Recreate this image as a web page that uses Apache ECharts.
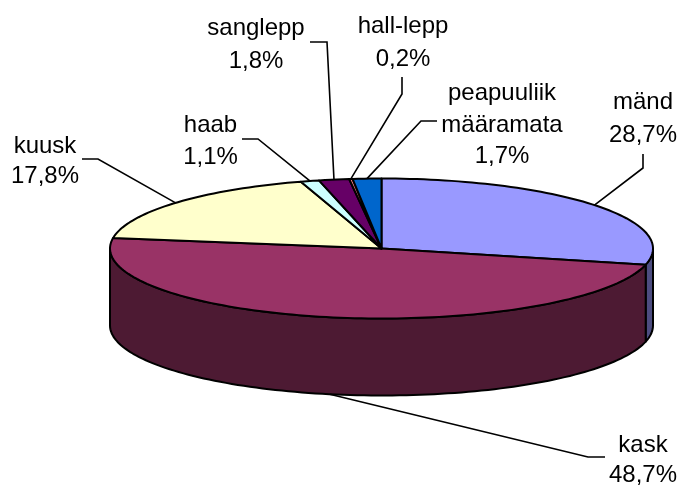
<!DOCTYPE html>
<html>
<head>
<meta charset="utf-8">
<style>html,body{margin:0;padding:0;background:#fff}#c{width:682px;height:486px}</style>
<script src="https://cdn.jsdelivr.net/npm/echarts@6/dist/echarts.min.js"></script>
</head>
<body>
<div id="c"></div>
<script>
// Data
const categories = ['mänd', 'kask', 'kuusk', 'haab', 'sanglepp', 'hall-lepp', 'peapuuliik\nmääramata'];
const shares = [28.7, 48.7, 17.8, 1.1, 1.8, 0.2, 1.7];
const shareLabels = ['28,7%', '48,7%', '17,8%', '1,1%', '1,8%', '0,2%', '1,7%'];

// Styles and layout
const topColors = ['#9999FF', '#993366', '#FFFFCC', '#CCFFFF', '#660066', '#FF8080', '#0066CC'];
const wallColors = ['#4D4D80', '#4D1A33', '#808066', '#668080', '#330033', '#804040', '#003366'];
const pie = { cx: 381.5, cy: 248.5, rx: 271.5, ry: 70, depth: 77 };
const labelCenters = [[643, 119], [643, 460.5], [45, 161.5], [210.5, 141.5], [256, 45], [403, 43], [502, 125]];
const labelLineHeights = [33, 30, 30, 32, 33, 33, 31.5];
const leaderElbows = [
  [[643, 168], [643, 154]],
  [[588, 457], [605, 457]],
  [[98, 159], [82, 159]],
  [[258, 139], [242, 139]],
  [[327, 42], [310, 42]],
  [[402, 94], [402, 77]],
  [[421, 121], [437, 121]]
];
const stroke = { stroke: '#000', lineWidth: 2, lineJoin: 'round' };
const total = shares.reduce((a, b) => a + b, 0);

function rim(deg, dy) {
  const t = deg * Math.PI / 180;
  return [pie.cx + pie.rx * Math.sin(t), pie.cy - pie.ry * Math.cos(t) + (dy || 0)];
}
function arc(from, to, dy) {
  const pts = [];
  const n = Math.max(2, Math.ceil((to - from) / 1.5));
  for (let i = 0; i <= n; i++) pts.push(rim(from + (to - from) * i / n, dy));
  return pts;
}

function renderSlice(params, api) {
  const i = params.dataIndex;
  const start = api.value(1) / total * 360;
  const end = start + api.value(0) / total * 360;
  const mid = (start + end) / 2;
  const children = [];

  // visible outer wall: the front half of the ellipse, 90..270 degrees
  const a = Math.max(start, 90), b = Math.min(end, 270);
  if (b > a) {
    const top = arc(a, b, 0);
    const bottom = arc(a, b, pie.depth).reverse();
    children.push({
      type: 'polygon', shape: { points: top.concat(bottom) },
      style: Object.assign({ fill: wallColors[i] }, stroke)
    });
  }
  // top face
  children.push({
    type: 'polygon',
    shape: { points: [[pie.cx, pie.cy]].concat(arc(start, end, 0)) },
    style: Object.assign({ fill: topColors[i] }, stroke)
  });
  // leader line: starts on the visible rim at the slice's middle angle
  const inFront = mid > 90 && mid < 270;
  const anchor = rim(mid, inFront ? pie.depth : 0);
  children.push({
    type: 'polyline', z2: 5,
    shape: { points: [anchor].concat(leaderElbows[i]) },
    style: { stroke: '#000', lineWidth: 1.6, fill: null }
  });
  // label
  children.push({
    type: 'text', z2: 6,
    x: labelCenters[i][0], y: labelCenters[i][1],
    style: {
      text: categories[i] + '\n' + shareLabels[i],
      fill: '#000',
      font: '24px "Liberation Sans", Arial, sans-serif',
      lineHeight: labelLineHeights[i],
      align: 'center',
      verticalAlign: 'middle'
    }
  });
  return { type: 'group', children };
}

let running = 0;
const rows = shares.map((v, i) => {
  const row = [v, running, categories[i]];
  running += v;
  return row;
});

const chart = echarts.init(document.getElementById('c'), null, { renderer: 'canvas' });
chart.setOption({
  animation: false,
  backgroundColor: '#fff',
  series: [{
    type: 'custom',
    coordinateSystem: 'none',
    renderItem: renderSlice,
    data: rows,
    silent: true
  }]
});
</script>
</body>
</html>
